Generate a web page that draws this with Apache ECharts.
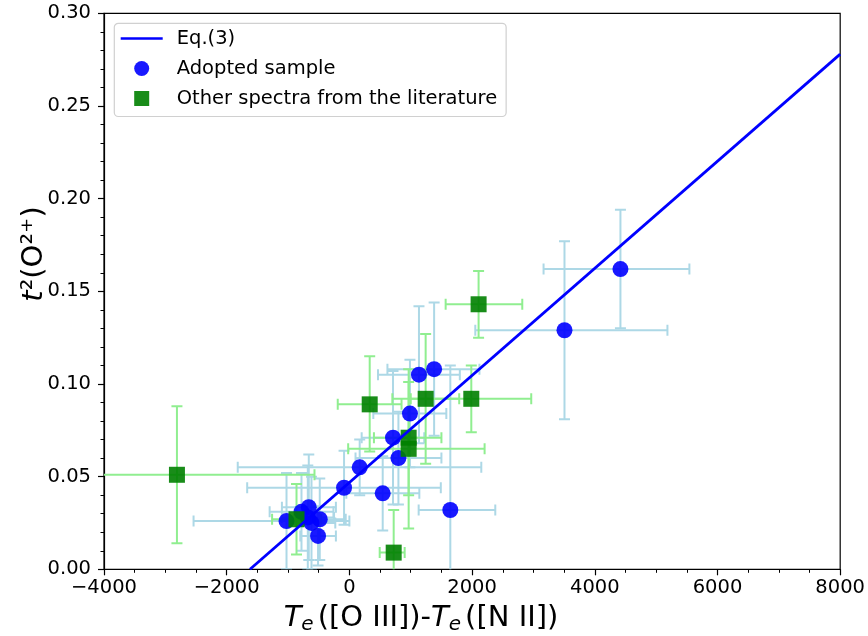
<!DOCTYPE html>
<html>
<head>
<meta charset="utf-8">
<script src="https://cdn.jsdelivr.net/npm/echarts@6/dist/echarts.min.js"></script>
<style>html,body{margin:0;padding:0;background:#fff}#c{width:868px;height:636px}</style>
</head>
<body>
<div id="c"></div>
<script>
// Eq.(3) fit line endpoints
const fitX = [-1620, 8000];
const fitY = [0, 0.278];

// Adopted sample
const adoptedX   = [4418, 3506, 1381, 1134, 987, 711, 799, 168, -87, 543, 1645, -1025, -662, -781, -483, -618, -511, -678];
const adoptedY   = [0.162, 0.129, 0.108, 0.105, 0.084, 0.071, 0.060, 0.055, 0.044, 0.041, 0.032, 0.026, 0.0335, 0.031, 0.027, 0.025, 0.018, 0.028];
const adoptedXLo = [3165, 2052, 620, 466, 390, 200, 100, -1820, -1666, -50, 1129, -2540, -1100, -1300, -900, -1000, -800, -1100];
const adoptedXHi = [5542, 5184, 2120, 1800, 1580, 1220, 1500, 2150, 1490, 1140, 2378, 0, -220, -260, -60, -230, -220, -250];
const adoptedYLo = [0.130, 0.081, 0.072, 0.068, 0.055, 0.035, 0.035, 0.040, 0.024, 0.021, -0.046, 0.000, 0.005, 0.010, 0.005, 0.000, 0.002, 0.000];
const adoptedYHi = [0.194, 0.177, 0.144, 0.142, 0.113, 0.107, 0.085, 0.070, 0.064, 0.061, 0.110, 0.052, 0.062, 0.052, 0.049, 0.050, 0.034, 0.056];

// Other spectra from the literature
const otherX   = [-2811, -862, 331, 1243, 1987, 2106, 966, 966, 722];
const otherY   = [0.051, 0.027, 0.089, 0.092, 0.092, 0.143, 0.071, 0.065, 0.009];
const otherXLo = [-5050, -1260, -190, 700, 1000, 1569, 400, -20, 494];
const otherXHi = [-569, -460, 850, 1790, 2964, 2818, 1500, 2204, 901];
const otherYLo = [0.014, 0.008, 0.0635, 0.057, 0.074, 0.125, 0.040, 0.022, -0.015];
const otherYHi = [0.088, 0.046, 0.115, 0.127, 0.110, 0.161, 0.101, 0.108, 0.032];

const FONT = 'DejaVu Sans';

function zip(xs, ys, xl, xh, yl, yh) {
  return xs.map((x, i) => yl ? [x, ys[i], xl[i], xh[i], yl[i], yh[i]] : [x, ys[i]]);
}

function errRender(color) {
  return function (params, api) {
    const x = api.value(0), y = api.value(1);
    const c = api.coord([x, y]);
    const xl = api.coord([api.value(2), y])[0];
    const xh = api.coord([api.value(3), y])[0];
    const yl = api.coord([x, api.value(4)])[1];
    const yh = api.coord([x, api.value(5)])[1];
    const cap = 5.5;
    const st = { stroke: color, lineWidth: 2 };
    const ln = (x1, y1, x2, y2) => ({ type: 'line', shape: { x1, y1, x2, y2 }, style: st });
    return {
      type: 'group',
      children: [
        ln(xl, c[1], xh, c[1]),
        ln(xl, c[1] - cap, xl, c[1] + cap),
        ln(xh, c[1] - cap, xh, c[1] + cap),
        ln(c[0], yl, c[0], yh),
        ln(c[0] - cap, yl, c[0] + cap, yl),
        ln(c[0] - cap, yh, c[0] + cap, yh)
      ]
    };
  };
}

const TICK_FS = 19.5;
const LABEL_FS = 29;

const chart = echarts.init(document.getElementById('c'), null, { renderer: 'canvas' });
chart.setOption({
  animation: false,
  backgroundColor: '#fff',
  textStyle: { fontFamily: FONT },
  grid: { left: 104, right: 27, top: 13.3, bottom: 66.7, show: true, borderColor: '#000', borderWidth: 1.2, backgroundColor: 'transparent' },
  xAxis: {
    type: 'value', min: -4000, max: 8000, interval: 2000,
    axisLine: { show: true, onZero: false, lineStyle: { color: '#000', width: 1.2 } },
    axisTick: { show: true, inside: false, length: 6, lineStyle: { color: '#000', width: 1.2 } },
    minorTick: { show: true, splitNumber: 4, length: 3.5, lineStyle: { color: '#000', width: 1 } },
    splitLine: { show: false },
    axisLabel: { color: '#000', fontSize: TICK_FS, fontFamily: FONT, margin: 9,
      formatter: v => (v < 0 ? '\u2212' + Math.abs(v) : String(v)) }
  },
  yAxis: {
    type: 'value', min: 0, max: 0.30, interval: 0.05,
    axisLine: { show: true, onZero: false, lineStyle: { color: '#000', width: 1.2 } },
    axisTick: { show: true, inside: false, length: 6, lineStyle: { color: '#000', width: 1.2 } },
    minorTick: { show: true, splitNumber: 5, length: 3.5, lineStyle: { color: '#000', width: 1 } },
    splitLine: { show: false },
    axisLabel: { color: '#000', fontSize: TICK_FS, fontFamily: FONT, margin: 13,
      formatter: v => v.toFixed(2) }
  },
  legend: {
    orient: 'vertical', left: 114.3, top: 23.3,
    padding: [5.2, 9, 8, 6.4],
    backgroundColor: '#fff', borderColor: '#d0d0d0', borderWidth: 1.2, borderRadius: 4,
    itemWidth: 42, itemHeight: 15, itemGap: 10,
    symbolKeepAspect: true,
    textStyle: { color: '#000', fontSize: TICK_FS, fontFamily: FONT, padding: [0, 0, 0, 9] },
    data: [
      { name: 'Eq.(3)', icon: 'path://M0,0H42V2.6H0Z' },
      { name: 'Adopted sample', icon: 'circle' },
      { name: 'Other spectra from the literature', icon: 'path://M0,0H10V10H0Z' }
    ]
  },
  graphic: [
    {
      type: 'text', x: 421, y: 618,
      style: {
        text: '{i|T}{s|e}{n|([O III])-}{i|T}{s|e}{n|([N II])}',
        textAlign: 'center', textVerticalAlign: 'middle', fill: '#000',
        rich: {
          i: { fontFamily: FONT, fontStyle: 'italic', fontSize: LABEL_FS, lineHeight: 36, verticalAlign: 'middle' },
          s: { fontFamily: FONT, fontStyle: 'italic', fontSize: 20, lineHeight: 36, verticalAlign: 'bottom', padding: [0, 4, 1, 0] },
          n: { fontFamily: FONT, fontSize: LABEL_FS, lineHeight: 36, verticalAlign: 'middle' }
        }
      }
    },
    {
      type: 'text', x: 34, y: 254, rotation: Math.PI / 2,
      style: {
        text: '{i|t}{n|\u00B2(O\u00B2\u207A)}',
        textAlign: 'center', textVerticalAlign: 'middle', fill: '#000',
        rich: {
          i: { fontFamily: FONT, fontStyle: 'italic', fontSize: LABEL_FS },
          n: { fontFamily: FONT, fontSize: LABEL_FS }
        }
      }
    }
  ],
  series: [
    {
      name: 'Eq.(3)', type: 'line', data: zip(fitX, fitY), symbol: 'none',
      lineStyle: { color: '#0000ff', width: 2.8 }, itemStyle: { color: '#0000ff' }, clip: true
    },
    {
      name: 'adoptedErr', type: 'custom', clip: true,
      renderItem: errRender('#add8e6'),
      data: zip(adoptedX, adoptedY, adoptedXLo, adoptedXHi, adoptedYLo, adoptedYHi)
    },
    {
      name: 'Adopted sample', type: 'scatter', symbol: 'circle', symbolSize: 16,
      itemStyle: { color: '#0000ff', opacity: 0.9 },
      data: zip(adoptedX, adoptedY)
    },
    {
      name: 'otherErr', type: 'custom', clip: true,
      renderItem: errRender('#90ee90'),
      data: zip(otherX, otherY, otherXLo, otherXHi, otherYLo, otherYHi)
    },
    {
      name: 'Other spectra from the literature', type: 'scatter', symbol: 'rect', symbolSize: 16,
      itemStyle: { color: '#008000', opacity: 0.9 },
      data: zip(otherX, otherY)
    }
  ]
});
</script>
</body>
</html>
